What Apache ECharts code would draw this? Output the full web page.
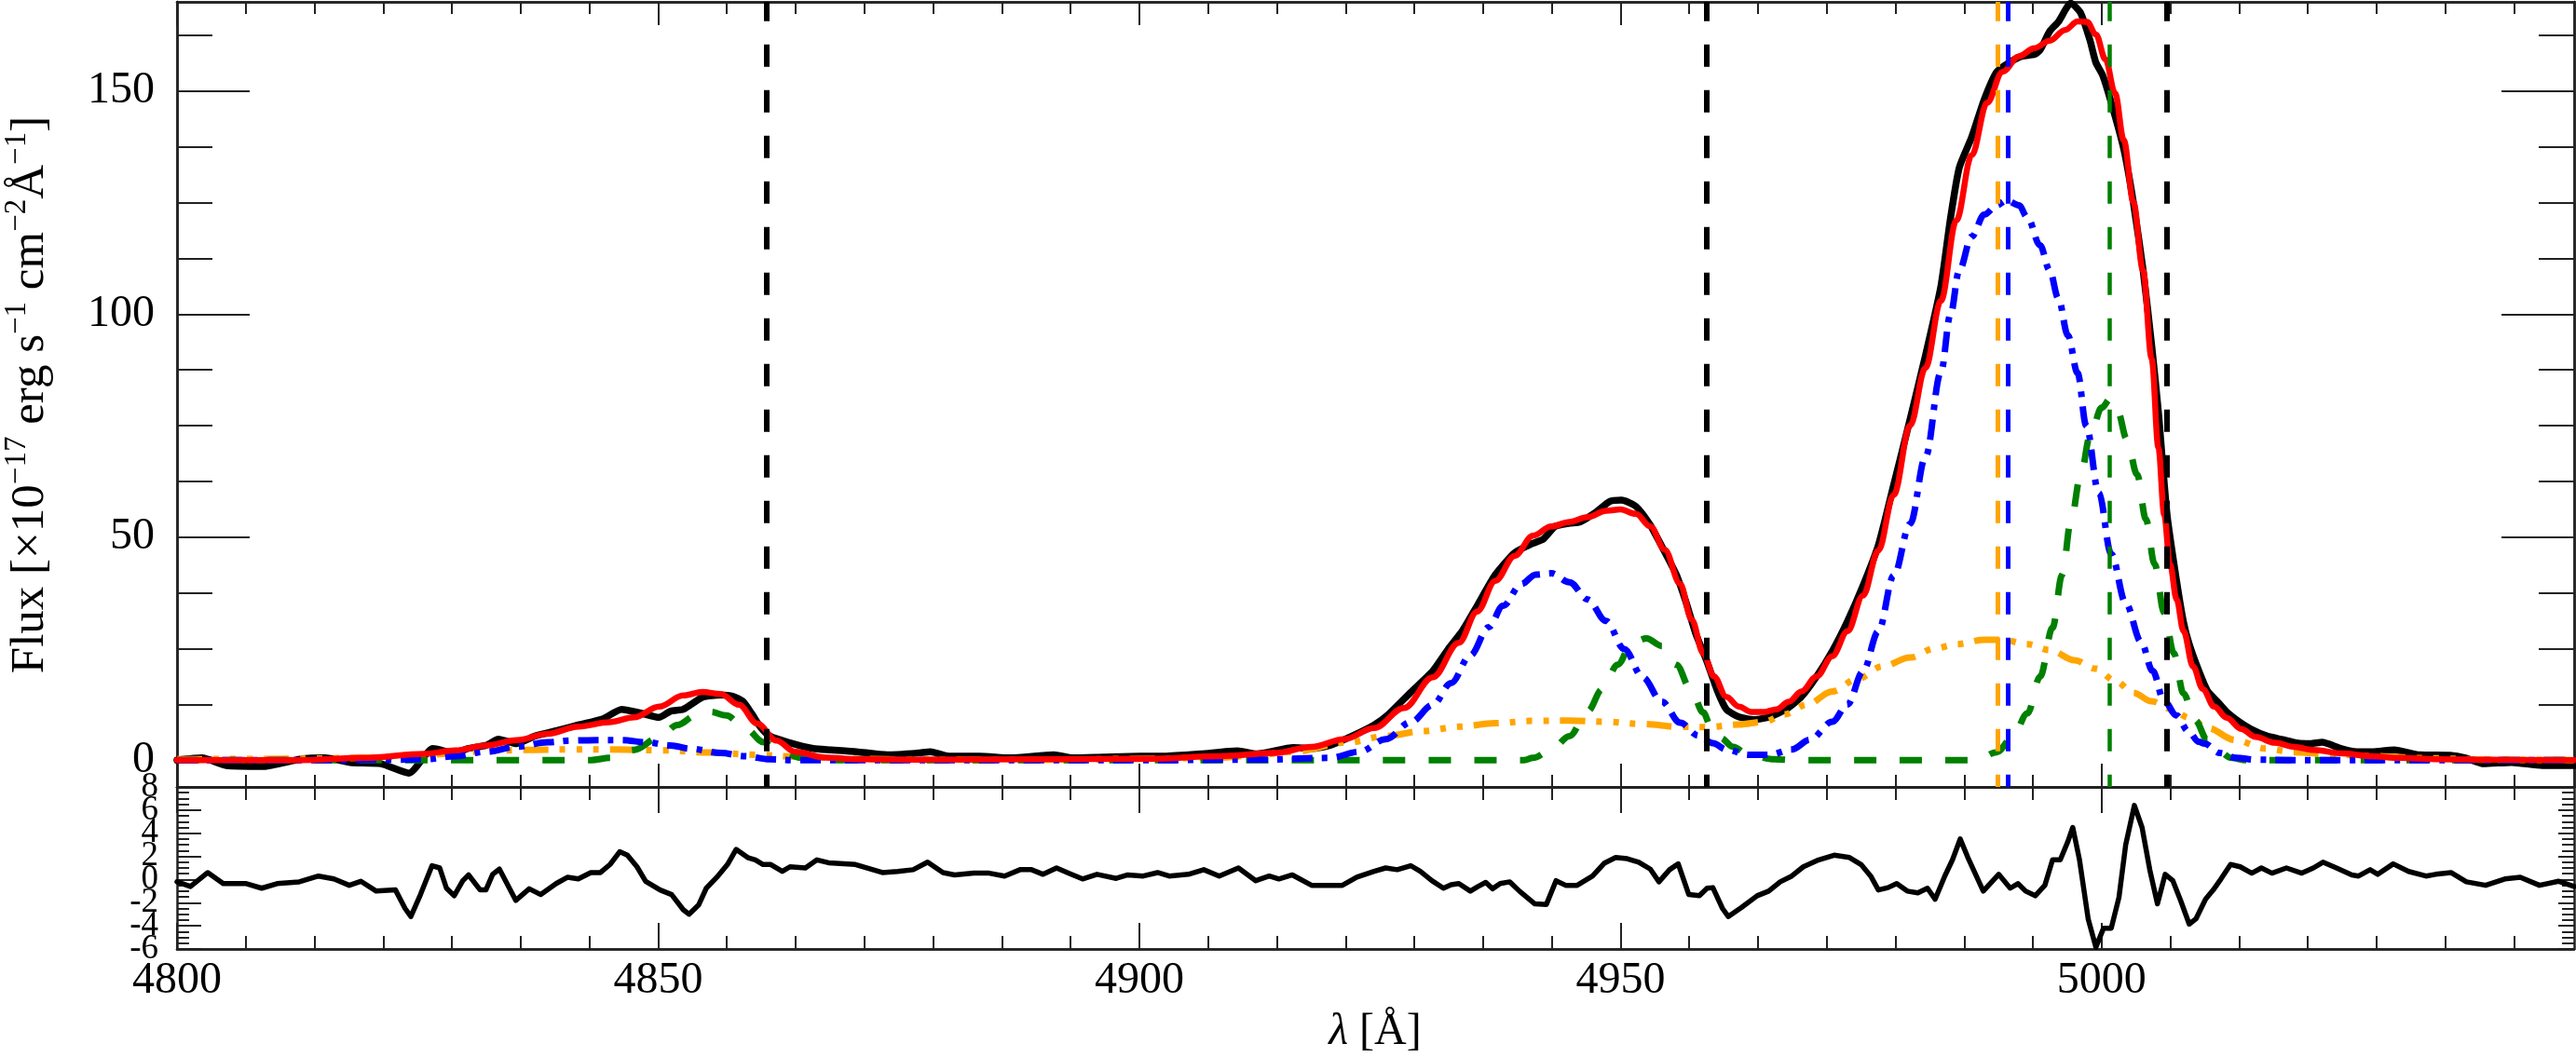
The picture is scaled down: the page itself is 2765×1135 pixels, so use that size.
<!DOCTYPE html>
<html>
<head>
<meta charset="utf-8">
<script src="https://cdn.jsdelivr.net/npm/echarts@6/dist/echarts.min.js"></script>
<style>
html,body{margin:0;padding:0;background:#fff;}
#chart{width:2765px;height:1135px;}
</style>
</head>
<body>
<div id="chart"></div>
<script>
// ---------------- data ----------------
const xMajorTicks = [4800, 4850, 4900, 4950, 5000];
const fluxTicks = [0, 50, 100, 150];
const residTicksA = [8, 4, 0, -4];
const residTicksB = [6, 2, -2, -6];

const observed = [[4800,0.0],[4802.6,0.5],[4805.1,-1.2],[4809.0,-1.4],[4812.8,0.2],[4815.4,0.5],[4818.0,-0.5],[4821.2,-0.8],[4824.1,-2.9],[4826.6,2.6],[4828.9,1.6],[4830.2,2.6],[4832.1,3.3],[4833.4,4.7],[4835.3,3.7],[4837.2,5.4],[4839.8,6.8],[4841.7,7.9],[4844.3,9.3],[4846.2,11.4],[4848.1,10.6],[4850.1,9.6],[4851.3,11.0],[4852.6,11.4],[4854.6,14.1],[4856.5,14.6],[4857.8,14.3],[4858.8,13.2],[4859.7,10.5],[4860.6,7.5],[4861.6,5.4],[4863.5,4.0],[4866.1,2.6],[4868.0,2.3],[4870.6,1.9],[4873.8,1.2],[4877.0,1.6],[4878.3,1.9],[4880.2,0.9],[4883.4,0.9],[4886.6,0.5],[4891.1,1.2],[4893.1,0.5],[4896.3,0.7],[4900.1,0.9],[4902.6,0.9],[4906.4,1.4],[4910.2,2.1],[4912.2,1.4],[4916.0,2.8],[4917.9,2.6],[4919.8,3.3],[4922.1,5.4],[4924.4,7.9],[4925.9,10.3],[4928.2,15.2],[4930.5,20.0],[4932.1,24.9],[4933.6,29.1],[4935.1,34.6],[4937.0,41.6],[4939.0,46.5],[4940.9,48.6],[4942.0,49.6],[4943.2,52.4],[4944.7,53.1],[4945.8,53.4],[4947.4,55.5],[4948.9,58.0],[4950.1,58.3],[4951.6,56.9],[4953.1,52.7],[4954.3,47.9],[4955.8,41.6],[4956.8,35.5],[4957.8,28.5],[4959.0,22.0],[4960.1,15.4],[4961.0,11.4],[4962.3,9.7],[4963.9,9.1],[4965.5,9.7],[4967.2,11.4],[4968.8,14.2],[4970.4,18.8],[4972.0,24.4],[4973.6,31.2],[4975.2,39.1],[4976.8,48.2],[4978.4,61.8],[4980.1,76.5],[4981.7,90.8],[4983.3,106.3],[4984.3,121.6],[4985.2,132.8],[4986.5,139.7],[4987.8,148.1],[4989.1,154.3],[4990.4,156.4],[4991.7,157.8],[4993.0,158.2],[4993.6,159.2],[4994.6,163.4],[4995.5,165.5],[4996.8,169.7],[4997.8,167.6],[4998.8,161.3],[4999.4,156.4],[5000.1,153.6],[5001.0,147.4],[5002.3,137.0],[5003.3,125.0],[5004.3,110.0],[5005.2,93.0],[5005.9,78.0],[5006.8,55.0],[5007.8,40.0],[5008.5,31.0],[5009.1,26.0],[5010.1,20.0],[5011.0,15.5],[5012.0,13.2],[5013.0,10.8],[5014.3,8.6],[5015.5,7.0],[5017.2,5.4],[5018.8,4.6],[5020.4,3.8],[5021.7,3.7],[5022.9,4.0],[5024.9,2.6],[5026.5,1.9],[5028.1,1.9],[5030.4,2.3],[5033.0,1.2],[5036.2,1.1],[5037.8,0.5],[5039.7,-0.8],[5042.6,-0.5],[5045.8,-1.2],[5049.1,-1.2]];

const modelTotal = [[4800,0.0],[4812.8,0.0],[4819.3,0.5],[4825.7,1.4],[4828.9,2.2],[4832.1,3.3],[4835.3,4.5],[4838.5,5.9],[4841.7,7.5],[4844.9,8.5],[4847.5,9.6],[4850.1,12.0],[4852.6,14.5],[4854.6,15.3],[4856.5,14.8],[4858.4,12.4],[4860.3,8.2],[4862.3,4.4],[4864.2,1.9],[4867.4,0.6],[4870.6,0.2],[4877.0,0.1],[4890.0,0.2],[4900.7,0.3],[4908.3,0.9],[4914.1,1.6],[4917.9,3.0],[4921.3,4.7],[4924.4,7.2],[4927.5,11.7],[4930.5,18.6],[4933.2,26.3],[4935.1,33.3],[4937.0,40.2],[4939.0,45.8],[4940.9,50.3],[4942.8,52.4],[4944.7,53.4],[4946.6,54.5],[4948.5,55.9],[4950.0,56.2],[4951.6,55.2],[4953.1,52.4],[4954.6,47.2],[4956.2,39.5],[4957.4,31.5],[4958.6,24.0],[4959.7,18.8],[4961.0,14.2],[4962.3,12.0],[4963.6,10.8],[4964.9,10.8],[4966.2,11.4],[4967.5,13.1],[4968.8,15.4],[4970.4,18.8],[4972.0,23.3],[4973.6,28.9],[4975.2,36.9],[4976.8,47.0],[4978.4,59.5],[4980.1,75.0],[4981.7,88.0],[4983.3,103.0],[4984.9,121.0],[4986.5,135.6],[4988.1,147.4],[4989.7,154.3],[4991.4,157.8],[4993.0,159.6],[4994.6,161.3],[4996.2,163.7],[4997.5,165.6],[4998.5,165.5],[4999.4,162.7],[5000.4,157.1],[5001.4,149.5],[5002.3,139.0],[5003.3,125.1],[5004.3,109.8],[5005.2,90.0],[5005.9,70.0],[5006.5,55.0],[5007.1,44.0],[5007.8,36.0],[5008.5,29.0],[5009.5,21.0],[5010.5,16.0],[5011.7,12.0],[5013.0,9.5],[5014.5,7.0],[5016.0,5.2],[5018.0,3.9],[5020.0,3.0],[5022.0,2.3],[5025.0,1.5],[5028.0,0.9],[5031.0,0.5],[5035.0,0.2],[5040.0,0.1],[5049.1,0.0]];

const blueComp = [[4800,0],[4815,0],[4822,0.1],[4825.7,0.2],[4828.9,0.9],[4832.1,1.9],[4835.3,3.0],[4838.5,4.0],[4841.0,4.4],[4843.6,4.5],[4846.2,4.5],[4848.8,4.0],[4851.3,3.3],[4853.3,2.6],[4856.5,1.6],[4859.0,0.9],[4861.6,0.2],[4864.2,0.0],[4900,0.0],[4912,0.1],[4919.8,0.5],[4922.9,1.9],[4925.6,4.7],[4928.2,8.5],[4930.5,12.4],[4932.4,17.3],[4934.4,23.5],[4936.3,29.8],[4937.8,34.6],[4939.7,39.5],[4941.2,41.6],[4942.8,41.9],[4944.7,39.9],[4946.6,36.0],[4948.5,31.2],[4950.4,24.9],[4952.3,18.6],[4954.3,13.1],[4956.2,8.4],[4958.1,5.5],[4959.6,3.8],[4961.0,2.4],[4963.3,1.2],[4965.5,1.2],[4967.8,2.4],[4969.7,4.6],[4972.0,8.6],[4973.6,12.5],[4975.2,19.9],[4976.8,28.9],[4978.4,41.4],[4980.1,53.0],[4981.7,68.0],[4983.3,87.0],[4984.3,100.0],[4985.2,109.8],[4986.5,117.4],[4987.8,122.3],[4989.1,124.4],[4990.1,125.5],[4991.4,124.4],[4992.3,121.6],[4993.6,115.4],[4994.6,109.8],[4995.5,103.5],[4996.5,95.2],[4997.5,86.8],[4998.4,75.0],[4999.7,59.9],[5001.0,46.2],[5002.5,35.2],[5004.1,26.5],[5005.3,20.0],[5006.5,13.2],[5007.8,10.0],[5009.0,6.5],[5010.1,4.1],[5010.7,3.7],[5012.3,1.6],[5014.0,0.5],[5016.0,0.1],[5020.0,0.0],[5049.1,0.0]];

const greenComp = [[4800,0],[4843,0],[4845,0.5],[4847.5,2.3],[4850.1,5.1],[4852.0,7.9],[4853.9,10.0],[4855.5,10.8],[4857.1,10.0],[4859.0,7.2],[4861.0,4.0],[4862.9,1.9],[4864.8,0.5],[4867.4,0],[4940,0],[4940.9,0.5],[4942.8,2.3],[4944.7,5.4],[4946.6,11.0],[4948.1,15.9],[4949.7,21.4],[4951.2,26.3],[4952.7,27.3],[4954.3,25.6],[4955.8,21.4],[4957.3,15.9],[4958.6,10.7],[4959.4,7.5],[4960.4,5.0],[4961.7,3.0],[4963.3,1.2],[4966,0.2],[4968,0],[4987,0],[4989.1,1.8],[4990.7,5.0],[4992.3,10.5],[4993.6,18.7],[4994.9,29.7],[4995.9,41.6],[4996.8,53.5],[4997.8,63.6],[4998.8,72.7],[5000.0,79.0],[5000.9,81.0],[5001.7,78.0],[5002.6,72.0],[5003.7,64.0],[5004.6,54.0],[5005.5,44.0],[5006.5,33.0],[5007.5,24.0],[5008.5,15.0],[5009.7,9.0],[5011.0,4.5],[5012.0,2.3],[5013.5,0.5],[5015,0],[5049.1,0]];

const orangeComp = [[4800,0.2],[4812,0.3],[4819,0.5],[4825.7,1.2],[4830.8,1.9],[4836,2.3],[4841,2.4],[4845,2.4],[4850.7,2.2],[4855.2,1.7],[4860.3,1.2],[4864.2,0.8],[4870.6,0.3],[4877,0.1],[4890,0.1],[4900.7,0.3],[4908.3,0.6],[4912,1.1],[4916,1.9],[4921.7,4.0],[4925.6,5.4],[4929.4,6.5],[4933.2,7.5],[4937,8.3],[4940.9,8.8],[4944.7,8.9],[4948.5,8.6],[4952.3,8.1],[4956.2,7.5],[4959.1,7.4],[4962.3,8.0],[4964.9,8.6],[4967.1,10.3],[4969.4,12.5],[4972,15.4],[4974.6,18.2],[4977.2,21],[4980.1,23],[4982.6,25],[4984.9,26],[4987.8,27],[4989.7,27],[4992.3,26],[4994.6,24.7],[4997.2,22.4],[4999.4,20.5],[5001.4,17.8],[5003.3,15.1],[5005.2,13.2],[5007.2,11.5],[5009.1,9.5],[5011,7.2],[5013.9,4.5],[5017,2.6],[5020,1.8],[5023.3,1.4],[5028,0.9],[5034.6,0.4],[5040,0.1],[5049.1,0]];

const residual = [[4800,-0.2],[4801.4,-0.6],[4803.2,0.6],[4804.8,-0.35],[4807.2,-0.35],[4808.8,-0.75],[4810.4,-0.35],[4812.7,-0.2],[4814.7,0.3],[4816.3,0.05],[4817.9,-0.5],[4819.1,-0.15],[4820.7,-1.0],[4822.7,-0.9],[4823.7,-2.5],[4824.3,-3.2],[4825.3,-1.3],[4826.5,1.2],[4827.3,1.0],[4828.0,-0.75],[4828.8,-1.4],[4829.7,-0.1],[4830.3,0.4],[4831.5,-0.9],[4832.1,-0.9],[4832.8,0.45],[4833.5,0.9],[4834.2,-0.2],[4835.2,-1.8],[4836.6,-0.8],[4837.8,-1.3],[4839.4,-0.35],[4840.6,0.2],[4841.7,0.05],[4843.0,0.6],[4844.0,0.6],[4845.0,1.3],[4846.0,2.4],[4846.8,2.1],[4847.8,1.1],[4848.7,-0.15],[4850.2,-0.9],[4851.4,-1.3],[4852.6,-2.6],[4853.2,-3.0],[4854.2,-2.2],[4855.0,-0.75],[4856.1,0.2],[4857.2,1.3],[4858.1,2.6],[4859.3,1.9],[4860.1,1.7],[4860.9,1.3],[4861.7,1.3],[4862.9,0.7],[4863.7,1.1],[4865.3,1.0],[4866.5,1.7],[4867.7,1.45],[4870.5,1.3],[4873.3,0.6],[4874.9,0.7],[4876.5,0.85],[4878.0,1.5],[4879.6,0.6],[4880.8,0.4],[4882.8,0.55],[4884.4,0.55],[4886.0,0.3],[4887.6,0.85],[4888.8,0.85],[4890.0,0.45],[4891.4,1.0],[4892.8,0.5],[4894.1,0.05],[4895.6,0.45],[4897.6,0.1],[4898.8,0.4],[4900.4,0.3],[4901.9,0.6],[4903.1,0.3],[4905.1,0.45],[4906.7,0.85],[4908.3,0.3],[4910.3,1.0],[4912.1,-0.1],[4913.5,0.3],[4914.5,0.05],[4915.9,0.4],[4917.9,-0.5],[4921.1,-0.5],[4922.6,0.2],[4924.4,0.7],[4925.6,1.0],[4926.8,0.85],[4928.2,1.2],[4929.2,0.7],[4930.4,-0.1],[4931.6,-0.75],[4932.4,-0.45],[4933.2,-0.35],[4934.4,-1.0],[4935.2,-0.6],[4936.0,-0.25],[4936.7,-0.8],[4937.5,-0.35],[4938.5,-0.2],[4939.5,-1.0],[4941.1,-2.1],[4942.3,-2.15],[4943.3,-0.1],[4944.3,-0.5],[4945.5,-0.5],[4947.1,0.3],[4948.3,1.4],[4949.5,1.9],[4950.7,1.8],[4951.9,1.5],[4953.1,0.9],[4954.0,-0.2],[4955.1,0.85],[4956.0,1.35],[4957.1,-1.3],[4958.2,-1.4],[4959.0,-0.75],[4959.6,-0.7],[4960.6,-2.5],[4961.2,-3.2],[4962.6,-2.4],[4964.2,-1.4],[4965.4,-1.0],[4966.6,-0.2],[4967.8,0.3],[4969.0,1.1],[4970.6,1.7],[4972.2,2.1],[4973.8,1.9],[4975.0,1.3],[4976.0,0.3],[4976.8,-0.9],[4977.8,-0.7],[4978.7,-0.35],[4979.8,-1.0],[4980.9,-1.15],[4981.9,-0.75],[4982.7,-1.7],[4983.7,0.3],[4984.5,1.7],[4985.3,3.5],[4986.1,1.9],[4986.9,0.45],[4987.7,-1.0],[4989.3,0.45],[4990.5,-0.75],[4991.3,-0.35],[4992.1,-1.0],[4993.1,-1.4],[4994.1,-0.5],[4994.9,1.7],[4995.7,1.7],[4996.5,3.3],[4997.0,4.5],[4997.7,1.7],[4998.6,-3.4],[4999.4,-5.85],[5000.2,-4.2],[5001.0,-4.2],[5001.8,-1.55],[5002.5,3.0],[5003.4,6.4],[5004.2,4.5],[5005.0,0.85],[5005.8,-2.1],[5006.6,0.45],[5007.4,-0.1],[5008.2,-1.8],[5009.1,-3.85],[5009.8,-3.4],[5010.8,-1.7],[5011.6,-0.9],[5012.4,0.05],[5013.4,1.3],[5014.4,1.1],[5015.6,0.55],[5016.6,1.0],[5017.7,0.55],[5019.2,1.0],[5020.8,0.55],[5022.0,1.0],[5023.0,1.5],[5024.4,1.0],[5026.0,0.4],[5026.7,0.3],[5027.9,0.85],[5028.7,0.45],[5030.3,1.35],[5031.9,0.7],[5033.7,0.3],[5034.7,0.45],[5036.3,0.6],[5037.9,-0.2],[5039.9,-0.5],[5041.9,0.05],[5043.5,0.2],[5045.5,-0.5],[5047.5,-0.15],[5049.1,-0.6]];

const blackLineX = [4861.3, 4958.9, 5006.8];
const orangeLineX = [4989.2];
const blueLineX = [4990.3];
const greenLineX = [5000.8];

// ---------------- layout / style ----------------
const X_MIN = 4800, X_MAX = 5049.1;
const Y_MIN = -6, Y_MAX = 170;
const SERIF = '"Liberation Serif", "Times New Roman", serif';
const AX = '#222';

const xMinorTicks = [];
for (let k = 1; k * 50 / 7 + X_MIN < X_MAX; k++) {
  if (k % 7 !== 0) xMinorTicks.push(X_MIN + k * 50 / 7);
}
const yMinorTicks = [];
for (let v = 12.5; v < Y_MAX; v += 12.5) {
  if (v % 50 !== 0) yMinorTicks.push(v);
}
const plain = v => String(Math.round(v * 100) / 100);

function xAx(grid, pos, ticks, len, labels) {
  return {
    type: 'value', gridIndex: grid, position: pos, min: X_MIN, max: X_MAX,
    axisLine: { show: true, onZero: false, lineStyle: { color: AX, width: 2.5 } },
    axisTick: { show: true, inside: true, length: len, customValues: ticks, lineStyle: { color: AX, width: 2 } },
    axisLabel: labels ? { show: true, customValues: xMajorTicks, formatter: plain, margin: 10, fontFamily: SERIF, fontSize: 48, color: '#000' } : { show: false },
    splitLine: { show: false }, minorTick: { show: false }
  };
}
function yAx(pos, ticks, len, labels) {
  return {
    type: 'value', gridIndex: 0, position: pos, min: Y_MIN, max: Y_MAX,
    axisLine: { show: true, onZero: false, lineStyle: { color: AX, width: 2.5 } },
    axisTick: { show: true, inside: true, length: len, customValues: ticks, lineStyle: { color: AX, width: 2 } },
    axisLabel: labels ? { show: true, customValues: fluxTicks, formatter: plain, margin: 24, fontFamily: SERIF, fontSize: 48, color: '#000' } : { show: false },
    splitLine: { show: false }, minorTick: { show: false }
  };
}
function rLabels(values) {
  return {
    show: true, customValues: values, formatter: plain, margin: 20, fontFamily: SERIF, fontSize: 37,
    color: '#000', showMinLabel: true, showMaxLabel: true, hideOverlap: false
  };
}
function rAx(pos, len, labelValues) {
  return {
    type: 'value', gridIndex: 1, position: pos, min: -6, max: 8, interval: 2,
    axisLine: { show: true, onZero: false, lineStyle: { color: AX, width: 2.5 } },
    axisTick: { show: true, inside: true, length: len, lineStyle: { color: AX, width: 2 } },
    minorTick: { show: true, splitNumber: 4, length: 13, lineStyle: { color: AX, width: 2 } },
    axisLabel: labelValues ? rLabels(labelValues) : { show: false },
    splitLine: { show: false }
  };
}
function rLabelAx(labelValues) {
  return {
    type: 'value', gridIndex: 1, position: 'left', min: -6, max: 8, interval: 2,
    axisLine: { show: false, onZero: false }, axisTick: { show: false }, minorTick: { show: false },
    axisLabel: rLabels(labelValues), splitLine: { show: false }
  };
}

function comp(name, data, color, dash) {
  return {
    name, type: 'line', xAxisIndex: 0, yAxisIndex: 0, data, showSymbol: false, symbol: 'none',
    smooth: 0.35, smoothMonotone: 'x', z: 3,
    lineStyle: { color, width: 7, type: dash, cap: 'butt', join: 'round' }
  };
}
function vlines(values, color, width) {
  return {
    type: 'line', xAxisIndex: 0, yAxisIndex: 0, data: [], z: 6, silent: true,
    markLine: {
      silent: true, symbol: ['none', 'none'], animation: false,
      label: { show: false },
      lineStyle: { color, width, type: [24, 25], dashOffset: 10.8, cap: 'butt' },
      emphasis: { disabled: true },
      data: values.map(v => ({ xAxis: v }))
    }
  };
}

const chart = echarts.init(document.getElementById('chart'), null, { renderer: 'canvas' });
chart.setOption({
  backgroundColor: '#fff',
  animation: false,
  grid: [
    { left: 190, top: 2, width: 2573, height: 843 },
    { left: 190, top: 845, width: 2573, height: 174 }
  ],
  xAxis: [
    xAx(0, 'bottom', xMajorTicks, 25, false),
    xAx(0, 'bottom', xMinorTicks, 13, false),
    xAx(0, 'top', xMajorTicks, 25, false),
    xAx(0, 'top', xMinorTicks, 13, false),
    xAx(1, 'bottom', xMajorTicks, 28, true),
    xAx(1, 'bottom', xMinorTicks, 14, false),
    xAx(1, 'top', xMajorTicks, 28, false),
    xAx(1, 'top', xMinorTicks, 14, false)
  ],
  yAxis: [
    yAx('left', fluxTicks, 78, true),
    yAx('left', yMinorTicks, 38, false),
    yAx('right', fluxTicks, 78, false),
    yAx('right', yMinorTicks, 38, false),
    rAx('left', 26, residTicksA),
    rAx('right', 17, null),
    rLabelAx(residTicksB)
  ],
  series: [
    {
      name: 'observed', type: 'line', xAxisIndex: 0, yAxisIndex: 0, data: observed,
      showSymbol: false, symbol: 'none', smooth: 0.2, z: 2,
      lineStyle: { color: '#000', width: 7.5, join: 'round', cap: 'round' }
    },
    comp('orange', orangeComp, '#ffa500', [27, 12, 6, 12, 6, 12, 6, 12]),
    comp('green', greenComp, '#008000', [24, 25]),
    comp('blue', blueComp, '#0000ff', [22, 10, 6, 10]),
    {
      name: 'model', type: 'line', xAxisIndex: 0, yAxisIndex: 0, data: modelTotal,
      showSymbol: false, symbol: 'none', smooth: 0.35, smoothMonotone: 'x', z: 4,
      lineStyle: { color: '#ff0000', width: 6.5, join: 'round', cap: 'round' }
    },
    vlines(blackLineX, '#000', 6),
    vlines(orangeLineX, '#ffa500', 5),
    vlines(blueLineX, '#0000ff', 5),
    vlines(greenLineX, '#008000', 4.5),
    {
      name: 'residual', type: 'line', xAxisIndex: 4, yAxisIndex: 4, data: residual,
      showSymbol: false, symbol: 'none', z: 3,
      lineStyle: { color: '#000', width: 5.5, join: 'round', cap: 'round' }
    }
  ],
  graphic: [
    {
      type: 'text', x: 33, y: 424, rotation: Math.PI / 2, silent: true,
      style: {
        text: '{n|Flux [×10}{s|−17}{n| erg s}{s|−1}{n| cm}{s|−2}{n|Å}{s|−1}{n|]}',
        align: 'center', verticalAlign: 'middle',
        textAlign: 'center', textVerticalAlign: 'middle',
        fill: '#000',
        rich: {
          n: { fontFamily: SERIF, fontSize: 51, lineHeight: 62, fill: '#000', color: '#000' },
          s: { fontFamily: SERIF, fontSize: 33, lineHeight: 32, verticalAlign: 'top', fill: '#000', color: '#000' }
        }
      }
    },
    {
      type: 'text', x: 1476, y: 1108, silent: true,
      style: {
        text: '{i|λ}{n| [Å]}',
        align: 'center', verticalAlign: 'middle',
        textAlign: 'center', textVerticalAlign: 'middle',
        fill: '#000',
        rich: {
          i: { fontFamily: SERIF, fontSize: 48, fontStyle: 'italic', fill: '#000', color: '#000' },
          n: { fontFamily: SERIF, fontSize: 48, fill: '#000', color: '#000' }
        }
      }
    }
  ]
});
</script>
</body>
</html>
